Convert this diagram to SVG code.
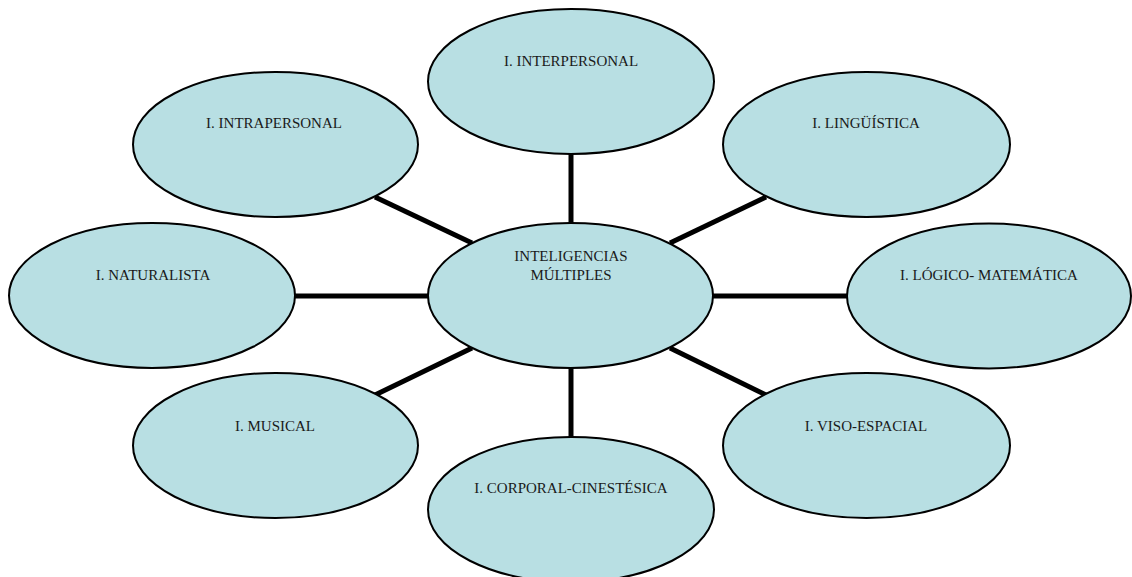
<svg xmlns="http://www.w3.org/2000/svg" width="1132" height="577" viewBox="0 0 1132 577">
<style>
.node ellipse{fill:#B8DFE3;stroke:#000;stroke-width:2}
.node text{font-family:"Liberation Serif",serif;font-size:15px;fill:#1a1a1a;text-anchor:middle}
.conn line{stroke:#000;stroke-width:5}
</style>
<rect width="1132" height="577" fill="#fff"/>
<g id="connectors" class="conn">
<line x1="571" y1="150" x2="571" y2="226"/>
<line x1="571" y1="365" x2="571" y2="440"/>
<line x1="292" y1="296" x2="431" y2="296"/>
<line x1="710" y1="296" x2="850" y2="296"/>
<line x1="375" y1="197" x2="472" y2="243"/>
<line x1="766" y1="197" x2="670" y2="243"/>
<line x1="375" y1="395" x2="472" y2="348"/>
<line x1="766" y1="395" x2="670" y2="348"/>
</g>
<g id="n-interpersonal" class="node">
<ellipse cx="571" cy="81.5" rx="143" ry="72.5"/>
<text x="571" y="66">I. INTERPERSONAL</text>
</g>
<g id="n-intrapersonal" class="node">
<ellipse cx="275.5" cy="144.5" rx="142.5" ry="72.5"/>
<text x="274" y="128">I. INTRAPERSONAL</text>
</g>
<g id="n-linguistica" class="node">
<ellipse cx="866.5" cy="144.5" rx="143.5" ry="72.5"/>
<text x="866" y="128">I. LINGÜÍSTICA</text>
</g>
<g id="n-naturalista" class="node">
<ellipse cx="152" cy="295.5" rx="143" ry="72.5"/>
<text x="153" y="280">I. NATURALISTA</text>
</g>
<g id="n-center" class="node">
<ellipse cx="570.5" cy="295.5" rx="142.5" ry="72.5"/>
<text x="571" y="261">INTELIGENCIAS</text>
<text x="571" y="280">MÚLTIPLES</text>
</g>
<g id="n-logico" class="node">
<ellipse cx="989" cy="296" rx="142" ry="72.5"/>
<text x="989" y="280">I. LÓGICO- MATEMÁTICA</text>
</g>
<g id="n-musical" class="node">
<ellipse cx="275.5" cy="445.5" rx="142.5" ry="72.5"/>
<text x="275" y="431">I. MUSICAL</text>
</g>
<g id="n-viso" class="node">
<ellipse cx="866.5" cy="445.5" rx="143.5" ry="72.5"/>
<text x="866" y="431">I. VISO-ESPACIAL</text>
</g>
<g id="n-corporal" class="node">
<ellipse cx="571" cy="509.5" rx="143" ry="72.5"/>
<text x="571" y="493">I. CORPORAL-CINESTÉSICA</text>
</g>
</svg>
